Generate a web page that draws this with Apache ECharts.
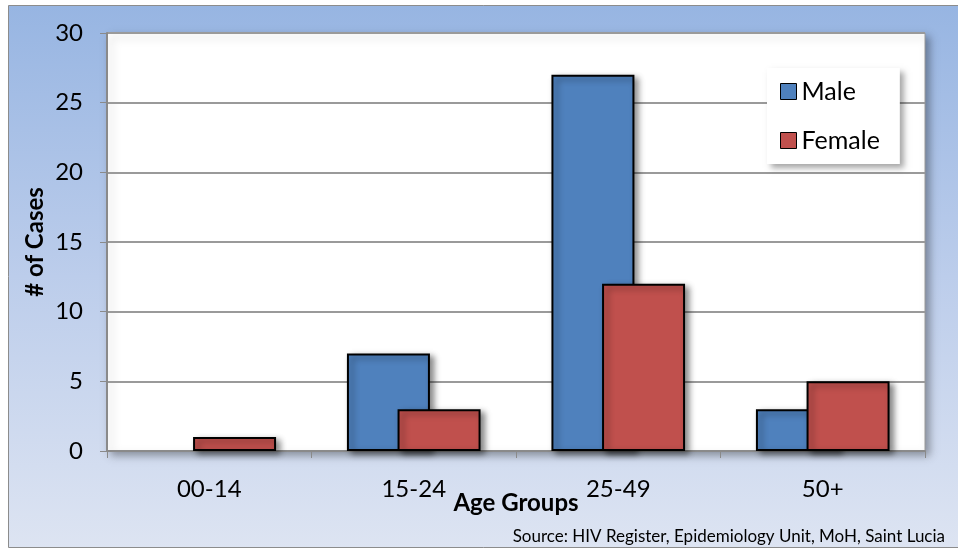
<!DOCTYPE html>
<html>
<head>
<meta charset="utf-8">
<script src="https://cdn.jsdelivr.net/npm/echarts@6/dist/echarts.min.js"></script>
<style>
  html, body { margin: 0; padding: 0; background: #fff; }
  #chart { width: 958px; height: 550px; }
</style>
</head>
<body>
<div id="chart"></div>
<script>
// Age groups and case counts by sex
const ageGroups = ['00-14', '15-24', '25-49', '50+'];
const maleCases = [0, 7, 27, 3];
const femaleCases = [1, 3, 12, 5];
const yTicks = { min: 0, max: 30, step: 5 };
const sourceNote = 'Source: HIV Register, Epidemiology Unit, MoH, Saint Lucia';

const FONT = 'Lato, "Open Sans", sans-serif';
const barShadow = {
  shadowBlur: 6,
  shadowColor: 'rgba(0,0,0,0.45)',
  shadowOffsetX: 4,
  shadowOffsetY: 3
};

// zero-height bars get no outline so they stay invisible
function barData(values) {
  return values.map(v => v === 0
    ? { value: v, itemStyle: { borderWidth: 0, shadowBlur: 0, shadowOffsetX: 0, shadowOffsetY: 0 } }
    : v);
}

const chart = echarts.init(document.getElementById('chart'), null, { renderer: 'canvas' });

chart.setOption({
  backgroundColor: '#ffffff',
  animation: false,
  graphic: [
    {
      type: 'rect',
      z: -10,
      shape: { x: 8.5, y: 5.5, width: 960, height: 542 },
      style: {
        fill: new echarts.graphic.LinearGradient(0, 0, 0, 1, [
          { offset: 0, color: '#97b5e2' },
          { offset: 0.5, color: '#bccdeb' },
          { offset: 1, color: '#dde4f2' }
        ]),
        stroke: '#8c8c8c',
        lineWidth: 1
      }
    },
    {
      type: 'text',
      x: 945,
      y: 537,
      style: {
        text: sourceNote,
        align: 'right',
        verticalAlign: 'middle',
        fontFamily: FONT,
        fontSize: 17,
        fill: '#000'
      }
    }
  ],
  grid: {
    left: 107,
    top: 33,
    right: 33,
    bottom: 99,
    show: true,
    backgroundColor: '#ffffff',
    borderColor: '#9a9a9a',
    borderWidth: 1,
    shadowBlur: 8,
    shadowColor: 'rgba(0,0,0,0.35)',
    shadowOffsetX: 4,
    shadowOffsetY: 4
  },
  legend: {
    orient: 'vertical',
    left: 767,
    top: 68,
    width: 130,
    padding: [11, 20, 11, 13],
    itemGap: 24,
    itemWidth: 16,
    itemHeight: 16,
    icon: 'rect',
    backgroundColor: '#ffffff',
    shadowBlur: 6,
    shadowColor: 'rgba(0,0,0,0.35)',
    shadowOffsetX: 4,
    shadowOffsetY: 4,
    itemStyle: { borderColor: '#000', borderWidth: 1, shadowBlur: 0, shadowOffsetX: 0, shadowOffsetY: 0 },
    textStyle: { fontFamily: FONT, fontSize: 25, color: '#000' },
    data: ['Male', 'Female']
  },
  xAxis: {
    type: 'category',
    data: ageGroups,
    name: 'Age Groups',
    nameLocation: 'middle',
    nameGap: 40,
    nameMoveOverlap: false,
    nameTextStyle: { fontFamily: FONT, fontSize: 24, fontWeight: 'bold', color: '#000' },
    axisLine: { show: true, lineStyle: { color: '#8a8a8a', width: 2 } },
    axisTick: { show: true, length: 7, lineStyle: { color: '#8a8a8a', width: 1 } },
    axisLabel: { margin: 26, fontFamily: FONT, fontSize: 24, color: '#000' },
    splitLine: { show: false }
  },
  yAxis: {
    type: 'value',
    min: yTicks.min,
    max: yTicks.max,
    interval: yTicks.step,
    name: '# of Cases',
    nameLocation: 'middle',
    nameGap: 60,
    nameMoveOverlap: false,
    nameTextStyle: { fontFamily: FONT, fontSize: 24, fontWeight: 'bold', color: '#000' },
    axisLine: { show: true, lineStyle: { color: '#8a8a8a', width: 2 } },
    axisTick: { show: true, length: 7, lineStyle: { color: '#8a8a8a', width: 1 } },
    axisLabel: { margin: 24, fontFamily: FONT, fontSize: 24, color: '#000' },
    splitLine: { show: true, lineStyle: { color: '#9a9a9a', width: 2 } }
  },
  series: [
    {
      name: 'Male',
      type: 'bar',
      data: barData(maleCases),
      barWidth: 83,
      barGap: '-39%',
      itemStyle: Object.assign({ color: '#4f81bd', borderColor: '#000', borderWidth: 2 }, barShadow)
    },
    {
      name: 'Female',
      type: 'bar',
      data: barData(femaleCases),
      barWidth: 83,
      barGap: '-39%',
      itemStyle: Object.assign({ color: '#c0504d', borderColor: '#000', borderWidth: 2 }, barShadow)
    }
  ]
});
</script>
</body>
</html>
